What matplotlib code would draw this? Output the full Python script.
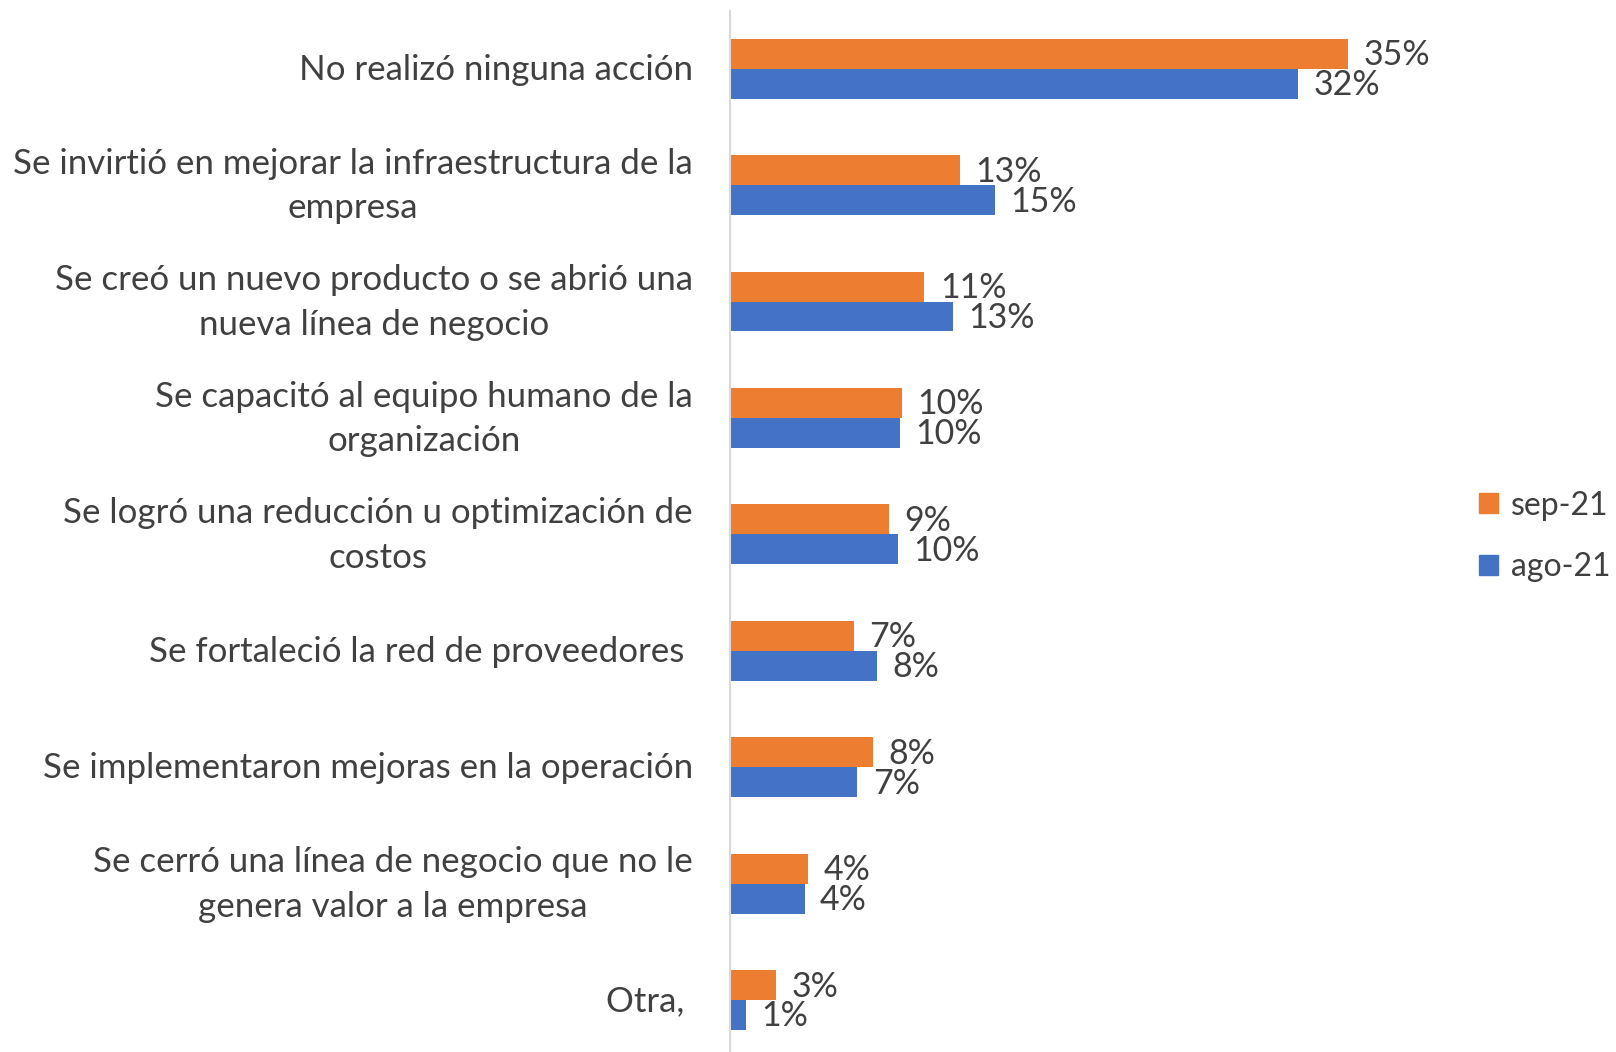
import matplotlib
matplotlib.use("Agg")
import matplotlib.pyplot as plt
from matplotlib.patches import Patch
from matplotlib.transforms import ScaledTranslation
import numpy as np

categories = [
    "No realizó ninguna acción",
    "Se invirtió en mejorar la infraestructura de la\nempresa",
    "Se creó un nuevo producto o se abrió una\nnueva línea de negocio",
    "Se capacitó al equipo humano de la\norganización",
    "Se logró una reducción u optimización de\ncostos",
    "Se fortaleció la red de proveedores ",
    "Se implementaron mejoras en la operación",
    "Se cerró una línea de negocio que no le\ngenera valor a la empresa",
    "Otra, ",
]
sep21 = [35.0, 13.0, 11.0, 9.7, 9.0, 7.0, 8.1, 4.4, 2.6]
ago21 = [32.2, 15.0, 12.6, 9.6, 9.5, 8.3, 7.2, 4.2, 0.9]
series_names = ["sep-21", "ago-21"]
colors = ["#ED7D31", "#4472C4"]

plt.rcParams['font.family'] = ['Lato', 'DejaVu Sans']
text_color = "#404040"

fig = plt.figure(figsize=(16.16, 10.52), dpi=100)
ax = fig.add_axes([0.452, -0.006, 0.441, 0.996])

y = np.arange(len(categories))
h = 0.257
b1 = ax.barh(y - h / 2, sep21, height=h, color=colors[0])
b2 = ax.barh(y + h / 2, ago21, height=h, color=colors[1])

for bars, vals in ((b1, sep21), (b2, ago21)):
    for bar, v in zip(bars, vals):
        ax.annotate(f"{v:.0f}%", (bar.get_width(), bar.get_y() + bar.get_height() / 2),
                    xytext=(11, -1), textcoords="offset points", va="center", ha="left",
                    fontsize=24.5, color=text_color)

ax.set_xlim(0, 40.4)
ax.set_ylim(len(categories) - 0.5, -0.5)
ax.set_yticks(y)
ax.set_yticklabels(categories, fontsize=25.1, color=text_color, multialignment="center",
                   linespacing=1.48)
ax.tick_params(axis="y", length=0, pad=27)
for lab in ax.get_yticklabels():
    dy = 0.082 if "\n" in lab.get_text() else 0.02
    lab.set_transform(lab.get_transform() + ScaledTranslation(0, dy, fig.dpi_scale_trans))
ax.set_xticks([])
for s in ["top", "right", "bottom"]:
    ax.spines[s].set_visible(False)
ax.spines["left"].set_color("#D9D9D9")
ax.spines["left"].set_linewidth(1.5)

handles = [Patch(color=colors[0]), Patch(color=colors[1])]
fig.legend(handles, series_names, loc="center left", bbox_to_anchor=(0.9155, 0.49),
           frameon=False, fontsize=23, labelcolor=text_color, handlelength=0.58,
           handleheight=0.58, handletextpad=0.4, labelspacing=1.0, borderaxespad=0,
           borderpad=0)

fig.savefig("out.png", dpi=100)
